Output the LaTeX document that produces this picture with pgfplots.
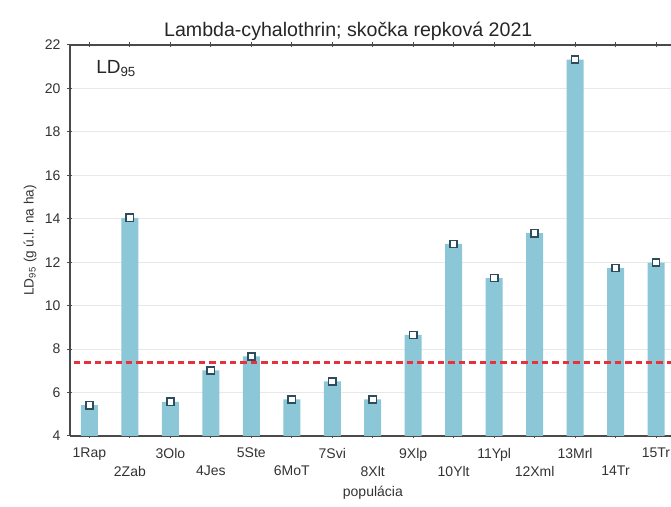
\documentclass[border=0pt]{standalone}
\usepackage{pgfplots}
\pgfplotsset{compat=1.18}
\usepackage{pgfplotstable}
\usepackage{fontspec}
\setmainfont{Liberation Sans}
\definecolor{barblue}{HTML}{8CC7D7}
\definecolor{mkedge}{HTML}{2E4D5C}
\definecolor{axgray}{HTML}{4A4A4A}
\definecolor{reddash}{HTML}{E5323B}
\pgfplotstableread{
x y
1 5.42
2 14.04
3 5.57
4 7.02
5 7.66
6 5.68
7 6.51
8 5.68
9 8.65
10 12.84
11 11.27
12 13.34
13 21.33
14 11.73
15 11.98
}\ld
\begin{document}
\begin{tikzpicture}[trim left=0pt, trim right=335.5pt]
\path (0,0) rectangle (335.5pt,249.5pt);
\begin{axis}[
 at={(35pt,31.5pt)}, anchor=south west,
 scale only axis, width=300.5pt, height=195.5pt,
 xmin=0.52, xmax=15.37, ymin=4, ymax=22,
 axis x line*=box, axis y line*=left,
 ytick={4,6,...,22},
 xtick={1,3,...,15},
 xticklabels={1Rap,3Olo,5Ste,7Svi,9Xlp,11Ypl,13Mrl,15Tr},
 extra x ticks={2,4,...,14},
 extra x tick labels={2Zab,4Jes,6MoT,8Xlt,10Ylt,12Xml,14Tr},
 extra x tick style={xticklabel style={yshift=-9pt}},
 /pgf/number format/assume math mode=true,
 tick label style={font=\fontsize{7}{8}\selectfont, text=black!80},
 xticklabel style={yshift=-1.2pt},
 yticklabel style={xshift=0pt},
 major tick length=2.5pt,
 tick align=center,
 tick style={axgray, line width=0.5pt},
 axis line style={axgray, line width=0.8pt},
 ymajorgrids,
 major grid style={black!9, line width=0.4pt},
 every axis title shift=0pt,
 title={Lambda-cyhalothrin; skočka repková 2021},
 title style={at={(axis description cs:0.463,1.0346)}, anchor=center, font=\fontsize{9.8}{11}\selectfont, text=black!85},
 xlabel={populácia},
 xlabel style={at={(axis description cs:0.504,-0.146)}, anchor=center, font=\fontsize{7}{8}\selectfont, text=black!80},
 ylabel={LD\textsubscript{95} (g ú.l. na ha)},
 ylabel style={at={(axis description cs:-0.0666,0.5)}, anchor=center, font=\fontsize{6.8}{8}\selectfont, text=black!80},
]
\addplot[ybar, bar width=8.5pt, fill=barblue, draw=none] table[x=x, y=y] {\ld};
\addplot[reddash, line width=1.5pt, dash pattern=on 3.2pt off 2pt] coordinates {(0.62,7.37) (15.37,7.37)};
\addplot[only marks, mark=square*, mark size=1.8pt, mark options={fill=white, draw=mkedge, line width=0.8pt}] table[x=x, y=y] {\ld};
\node[anchor=base west, font=\fontsize{9.5}{10}\selectfont, text=black!85] at (axis description cs:0.032,0.928) {LD\textsubscript{95}};
\end{axis}
\end{tikzpicture}
\end{document}
